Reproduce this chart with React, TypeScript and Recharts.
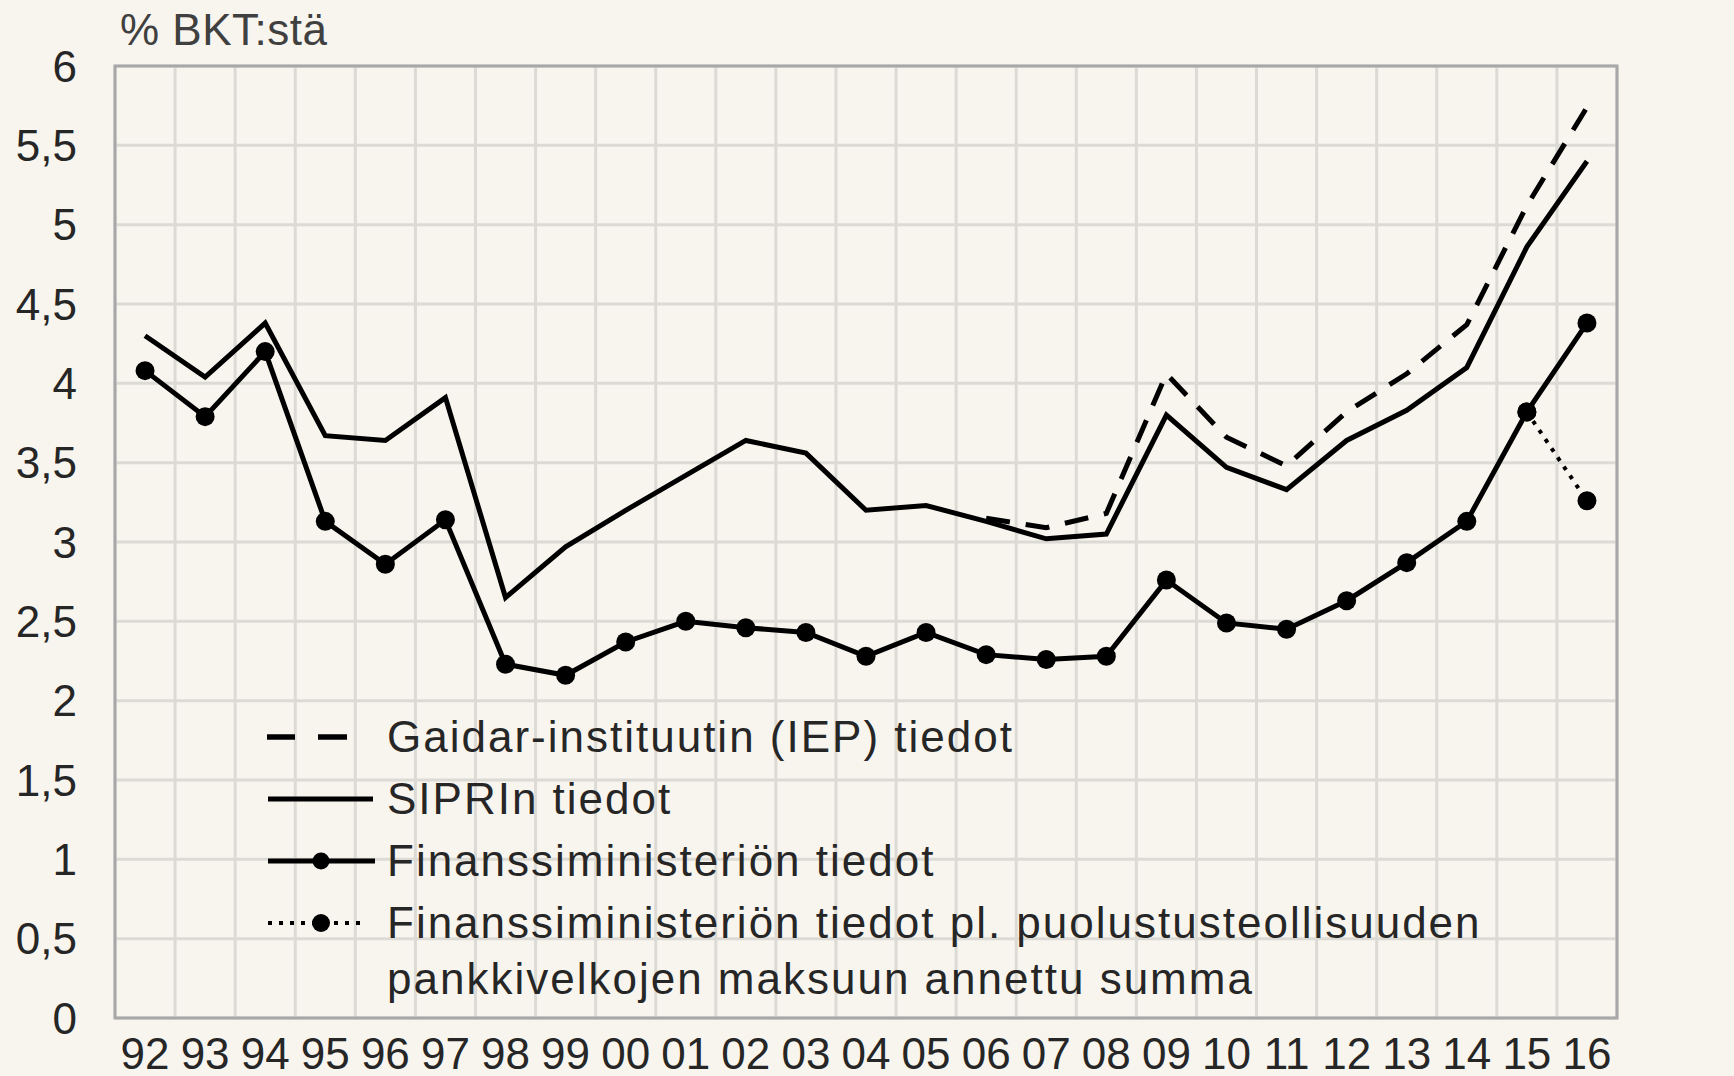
// Russian military spending as % of GDP, 1992–2016, three sources (line chart)
import { LineChart, Line, XAxis, YAxis, CartesianGrid, ReferenceArea, Legend } from "recharts";

const FONT = '"Liberation Sans", Arial, sans-serif';
const TEXT = "#262626";
const GRID = "#dcdad5";
const BORDER = "#a8a8a8";

const years = [
  "92", "93", "94", "95", "96", "97", "98", "99", "00", "01", "02", "03", "04",
  "05", "06", "07", "08", "09", "10", "11", "12", "13", "14", "15", "16",
];

// Gaidar institute (IEP) data, 2006 onwards
const gaidar = [
  null, null, null, null, null, null, null, null, null, null, null, null, null, null,
  3.15, 3.09, 3.18, 4.06, 3.66, 3.48, 3.82, 4.06, 4.37, 5.12, 5.74,
];

// SIPRI data
const sipri = [
  4.3, 4.04, 4.38, 3.67, 3.64, 3.91, 2.65, 2.97, 3.2, 3.42, 3.64, 3.56, 3.2,
  3.23, 3.13, 3.02, 3.05, 3.8, 3.47, 3.33, 3.64, 3.83, 4.1, 4.86, 5.4,
];

// Ministry of Finance data
const finance = [
  4.08, 3.79, 4.2, 3.13, 2.86, 3.14, 2.23, 2.16, 2.37, 2.5, 2.46, 2.43, 2.28,
  2.43, 2.29, 2.26, 2.28, 2.76, 2.49, 2.45, 2.63, 2.87, 3.13, 3.82, 4.38,
];

// Ministry of Finance excl. the defence industry bank debt payment
const financeExcl = [
  null, null, null, null, null, null, null, null, null, null, null, null, null,
  null, null, null, null, null, null, null, null, null, null, 3.82, 3.26,
];

const yTicks = [0, 0.5, 1, 1.5, 2, 2.5, 3, 3.5, 4, 4.5, 5, 5.5, 6];

const legendOrder = ["gaidar", "sipri", "finance", "financeExcl"];

const data = years.map((year, i) => ({
  x: i,
  year,
  gaidar: gaidar[i],
  sipri: sipri[i],
  finance: finance[i],
  financeExcl: financeExcl[i],
}));

const xTicks = years.map((_y, i) => i);
// category boundaries for the vertical grid lines
const gridTicks = [-0.5, ...years.map((_y, i) => i + 0.5)];

const fmt = (v: number) => String(v).replace(".", ",");

const tickStyle = { fontSize: 44, fill: TEXT, fontFamily: FONT };

function LegendSymbol({ dataKey }: { dataKey: string }) {
  const y = 28;
  return (
    <svg width={122} height={56} style={{ flex: "none" }}>
      {dataKey === "gaidar" && (
        <>
          <line x1={2} x2={30} y1={y} y2={y} stroke="#000" strokeWidth={5.5} />
          <line x1={53} x2={82} y1={y} y2={y} stroke="#000" strokeWidth={5.5} />
        </>
      )}
      {dataKey === "sipri" && <line x1={3} x2={108} y1={y} y2={y} stroke="#000" strokeWidth={5} />}
      {dataKey === "finance" && (
        <>
          <line x1={3} x2={110} y1={y} y2={y} stroke="#000" strokeWidth={5} />
          <circle cx={56} cy={y} r={8.5} fill="#000" />
        </>
      )}
      {dataKey === "financeExcl" && (
        <>
          <line x1={3} x2={95} y1={y} y2={y} stroke="#000" strokeWidth={4} strokeDasharray="4 7" />
          <circle cx={56} cy={y} r={9} fill="#000" />
        </>
      )}
    </svg>
  );
}

function LegendContent({ payload }: { payload?: Array<{ dataKey?: string; value?: string }> }) {
  if (!payload) return null;
  const items = [...payload].sort(
    (a, b) => legendOrder.indexOf(String(a.dataKey)) - legendOrder.indexOf(String(b.dataKey)),
  );
  return (
    <div style={{ fontFamily: FONT, fontSize: 44, color: TEXT, letterSpacing: 2 }}>
      {items.map((entry) => (
        <div
          key={String(entry.dataKey)}
          style={{ display: "flex", alignItems: "flex-start", marginBottom: 6 }}
        >
          <LegendSymbol dataKey={String(entry.dataKey)} />
          <div style={{ lineHeight: "56px", whiteSpace: "pre" }}>{entry.value}</div>
        </div>
      ))}
    </div>
  );
}

export default function App() {
  return (
    <div
      style={{
        position: "absolute",
        left: 0,
        top: 0,
        width: 1734,
        height: 1076,
        background: "#f8f5ef",
        fontFamily: FONT,
      }}
    >
      <div
        style={{
          position: "absolute",
          left: 120,
          top: 8,
          fontSize: 44,
          lineHeight: "44px",
          color: "#404040",
          letterSpacing: 0.5,
        }}
      >
        % BKT:stä
      </div>
      <LineChart
        width={1734}
        height={1076}
        data={data}
        margin={{ top: 66, right: 57, left: 55, bottom: 8 }}
      >
        <XAxis
          dataKey="x"
          type="number"
          domain={[-0.5, years.length - 0.5]}
          ticks={xTicks}
          interval={0}
          tickFormatter={(v: number) => years[v]}
          axisLine={false}
          tickLine={false}
          tickSize={0}
          tickMargin={20}
          height={50}
          tick={tickStyle}
        />
        <XAxis
          xAxisId="grid"
          type="number"
          dataKey="x"
          domain={[-0.5, years.length - 0.5]}
          ticks={gridTicks}
          hide
        />
        <YAxis
          domain={[0, 6]}
          ticks={yTicks}
          interval={0}
          tickFormatter={fmt}
          axisLine={false}
          tickLine={false}
          tickSize={0}
          tickMargin={38}
          width={60}
          tick={tickStyle}
        />
        <YAxis
          yAxisId="right"
          orientation="right"
          domain={[0, 6]}
          ticks={yTicks}
          interval={0}
          tickFormatter={fmt}
          axisLine={false}
          tickLine={false}
          tickSize={0}
          tickMargin={35}
          width={60}
          tick={tickStyle}
        />
        <CartesianGrid xAxisId="grid" stroke={GRID} strokeWidth={3} />
        <ReferenceArea
          x1={-0.5}
          x2={years.length - 0.5}
          y1={0}
          y2={6}
          fill="none"
          fillOpacity={0}
          stroke={BORDER}
          strokeWidth={3}
        />
        <Legend
          layout="vertical"
          align="center"
          verticalAlign="middle"
          wrapperStyle={{ left: 265, top: 709, width: 1250 }}
          content={<LegendContent />}
        />
        <Line
          dataKey="gaidar"
          name="Gaidar-instituutin (IEP) tiedot"
          type="linear"
          stroke="#000"
          strokeWidth={5}
          strokeDasharray="24 16"
          dot={false}
          isAnimationActive={false}
        />
        <Line
          dataKey="sipri"
          name="SIPRIn tiedot"
          type="linear"
          stroke="#000"
          strokeWidth={5}
          dot={false}
          isAnimationActive={false}
        />
        <Line
          dataKey="finance"
          name="Finanssiministeriön tiedot"
          type="linear"
          stroke="#000"
          strokeWidth={5}
          dot={{ r: 9.5, fill: "#000", stroke: "none" }}
          isAnimationActive={false}
        />
        <Line
          dataKey="financeExcl"
          name={"Finanssiministeriön tiedot pl. puolustusteollisuuden\npankkivelkojen maksuun annettu summa"}
          type="linear"
          stroke="#000"
          strokeWidth={4}
          strokeDasharray="4 7"
          dot={{ r: 9.5, fill: "#000", stroke: "none" }}
          isAnimationActive={false}
        />
      </LineChart>
    </div>
  );
}
